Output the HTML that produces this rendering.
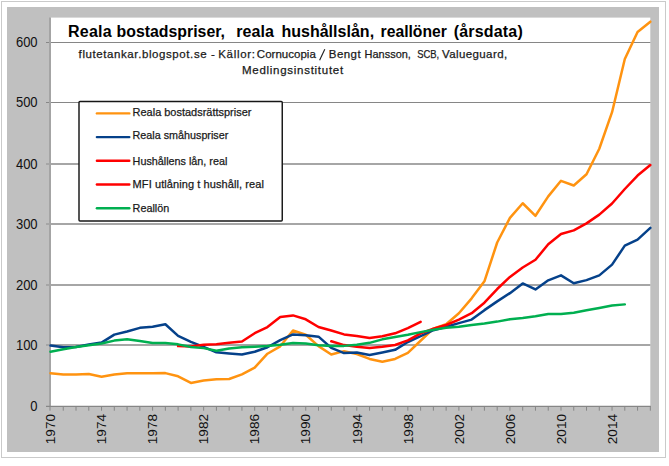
<!DOCTYPE html>
<html><head><meta charset="utf-8"><style>
html,body{margin:0;padding:0;background:#fff;width:669px;height:466px;overflow:hidden}
svg{display:block}
</style></head><body>
<svg width="669" height="466" viewBox="0 0 669 466">
<rect x="0" y="0" width="669" height="466" fill="#ffffff"/>
<rect x="1.5" y="1.5" width="664" height="456" fill="none" stroke="#cacaca" stroke-width="1"/>
<rect x="7" y="7" width="652" height="445" fill="#c0c0c0"/>
<rect x="50.5" y="17.6" width="599.8" height="388.8" fill="#ffffff"/>
<line x1="46" y1="42.5" x2="650.4" y2="42.5" stroke="#868686" stroke-width="1"/>
<line x1="46" y1="102.5" x2="650.4" y2="102.5" stroke="#868686" stroke-width="1"/>
<line x1="46" y1="164.0" x2="650.4" y2="164.0" stroke="#a6a6a6" stroke-width="2"/>
<line x1="46" y1="224.0" x2="650.4" y2="224.0" stroke="#a6a6a6" stroke-width="2"/>
<line x1="46" y1="285.0" x2="650.4" y2="285.0" stroke="#a6a6a6" stroke-width="2"/>
<line x1="46" y1="345.0" x2="650.4" y2="345.0" stroke="#a6a6a6" stroke-width="2"/>
<line x1="50" y1="17.5" x2="50" y2="406.4" stroke="#a4a4a4" stroke-width="2"/>
<line x1="46" y1="406.4" x2="650.8" y2="406.4" stroke="#868686" stroke-width="1.2"/>
<line x1="50.00" y1="406" x2="50.00" y2="410.7" stroke="#868686" stroke-width="1"/>
<line x1="63.26" y1="406" x2="63.26" y2="410.7" stroke="#868686" stroke-width="1"/>
<line x1="76.03" y1="406" x2="76.03" y2="410.7" stroke="#868686" stroke-width="1"/>
<line x1="88.79" y1="406" x2="88.79" y2="410.7" stroke="#868686" stroke-width="1"/>
<line x1="101.55" y1="406" x2="101.55" y2="410.7" stroke="#868686" stroke-width="1"/>
<line x1="114.31" y1="406" x2="114.31" y2="410.7" stroke="#868686" stroke-width="1"/>
<line x1="127.07" y1="406" x2="127.07" y2="410.7" stroke="#868686" stroke-width="1"/>
<line x1="139.84" y1="406" x2="139.84" y2="410.7" stroke="#868686" stroke-width="1"/>
<line x1="152.60" y1="406" x2="152.60" y2="410.7" stroke="#868686" stroke-width="1"/>
<line x1="165.36" y1="406" x2="165.36" y2="410.7" stroke="#868686" stroke-width="1"/>
<line x1="178.12" y1="406" x2="178.12" y2="410.7" stroke="#868686" stroke-width="1"/>
<line x1="190.89" y1="406" x2="190.89" y2="410.7" stroke="#868686" stroke-width="1"/>
<line x1="203.65" y1="406" x2="203.65" y2="410.7" stroke="#868686" stroke-width="1"/>
<line x1="216.41" y1="406" x2="216.41" y2="410.7" stroke="#868686" stroke-width="1"/>
<line x1="229.17" y1="406" x2="229.17" y2="410.7" stroke="#868686" stroke-width="1"/>
<line x1="241.94" y1="406" x2="241.94" y2="410.7" stroke="#868686" stroke-width="1"/>
<line x1="254.70" y1="406" x2="254.70" y2="410.7" stroke="#868686" stroke-width="1"/>
<line x1="267.46" y1="406" x2="267.46" y2="410.7" stroke="#868686" stroke-width="1"/>
<line x1="280.23" y1="406" x2="280.23" y2="410.7" stroke="#868686" stroke-width="1"/>
<line x1="292.99" y1="406" x2="292.99" y2="410.7" stroke="#868686" stroke-width="1"/>
<line x1="305.75" y1="406" x2="305.75" y2="410.7" stroke="#868686" stroke-width="1"/>
<line x1="318.51" y1="406" x2="318.51" y2="410.7" stroke="#868686" stroke-width="1"/>
<line x1="331.27" y1="406" x2="331.27" y2="410.7" stroke="#868686" stroke-width="1"/>
<line x1="344.04" y1="406" x2="344.04" y2="410.7" stroke="#868686" stroke-width="1"/>
<line x1="356.80" y1="406" x2="356.80" y2="410.7" stroke="#868686" stroke-width="1"/>
<line x1="369.56" y1="406" x2="369.56" y2="410.7" stroke="#868686" stroke-width="1"/>
<line x1="382.32" y1="406" x2="382.32" y2="410.7" stroke="#868686" stroke-width="1"/>
<line x1="395.09" y1="406" x2="395.09" y2="410.7" stroke="#868686" stroke-width="1"/>
<line x1="407.85" y1="406" x2="407.85" y2="410.7" stroke="#868686" stroke-width="1"/>
<line x1="420.61" y1="406" x2="420.61" y2="410.7" stroke="#868686" stroke-width="1"/>
<line x1="433.38" y1="406" x2="433.38" y2="410.7" stroke="#868686" stroke-width="1"/>
<line x1="446.14" y1="406" x2="446.14" y2="410.7" stroke="#868686" stroke-width="1"/>
<line x1="458.90" y1="406" x2="458.90" y2="410.7" stroke="#868686" stroke-width="1"/>
<line x1="471.66" y1="406" x2="471.66" y2="410.7" stroke="#868686" stroke-width="1"/>
<line x1="484.42" y1="406" x2="484.42" y2="410.7" stroke="#868686" stroke-width="1"/>
<line x1="497.19" y1="406" x2="497.19" y2="410.7" stroke="#868686" stroke-width="1"/>
<line x1="509.95" y1="406" x2="509.95" y2="410.7" stroke="#868686" stroke-width="1"/>
<line x1="522.71" y1="406" x2="522.71" y2="410.7" stroke="#868686" stroke-width="1"/>
<line x1="535.47" y1="406" x2="535.47" y2="410.7" stroke="#868686" stroke-width="1"/>
<line x1="548.24" y1="406" x2="548.24" y2="410.7" stroke="#868686" stroke-width="1"/>
<line x1="561.00" y1="406" x2="561.00" y2="410.7" stroke="#868686" stroke-width="1"/>
<line x1="573.76" y1="406" x2="573.76" y2="410.7" stroke="#868686" stroke-width="1"/>
<line x1="586.52" y1="406" x2="586.52" y2="410.7" stroke="#868686" stroke-width="1"/>
<line x1="599.29" y1="406" x2="599.29" y2="410.7" stroke="#868686" stroke-width="1"/>
<line x1="612.05" y1="406" x2="612.05" y2="410.7" stroke="#868686" stroke-width="1"/>
<line x1="624.81" y1="406" x2="624.81" y2="410.7" stroke="#868686" stroke-width="1"/>
<line x1="637.57" y1="406" x2="637.57" y2="410.7" stroke="#868686" stroke-width="1"/>
<line x1="650.34" y1="406" x2="650.34" y2="410.7" stroke="#868686" stroke-width="1"/>
<text x="37.6" y="411.0" text-anchor="end" font-family="'Liberation Sans', sans-serif" font-size="14" fill="#111" textLength="7.23" lengthAdjust="spacingAndGlyphs">0</text>
<text x="37.6" y="349.6" text-anchor="end" font-family="'Liberation Sans', sans-serif" font-size="14" fill="#111" textLength="21.69" lengthAdjust="spacingAndGlyphs">100</text>
<text x="37.6" y="289.6" text-anchor="end" font-family="'Liberation Sans', sans-serif" font-size="14" fill="#111" textLength="21.69" lengthAdjust="spacingAndGlyphs">200</text>
<text x="37.6" y="228.6" text-anchor="end" font-family="'Liberation Sans', sans-serif" font-size="14" fill="#111" textLength="21.69" lengthAdjust="spacingAndGlyphs">300</text>
<text x="37.6" y="168.6" text-anchor="end" font-family="'Liberation Sans', sans-serif" font-size="14" fill="#111" textLength="21.69" lengthAdjust="spacingAndGlyphs">400</text>
<text x="37.6" y="107.1" text-anchor="end" font-family="'Liberation Sans', sans-serif" font-size="14" fill="#111" textLength="21.69" lengthAdjust="spacingAndGlyphs">500</text>
<text x="37.6" y="47.1" text-anchor="end" font-family="'Liberation Sans', sans-serif" font-size="14" fill="#111" textLength="21.69" lengthAdjust="spacingAndGlyphs">600</text>
<text transform="translate(55.2,414) rotate(-90)" text-anchor="end" font-family="'Liberation Sans', sans-serif" font-size="13.6" fill="#111" textLength="30.2" lengthAdjust="spacingAndGlyphs">1970</text>
<text transform="translate(106.2,414) rotate(-90)" text-anchor="end" font-family="'Liberation Sans', sans-serif" font-size="13.6" fill="#111" textLength="30.2" lengthAdjust="spacingAndGlyphs">1974</text>
<text transform="translate(157.3,414) rotate(-90)" text-anchor="end" font-family="'Liberation Sans', sans-serif" font-size="13.6" fill="#111" textLength="30.2" lengthAdjust="spacingAndGlyphs">1978</text>
<text transform="translate(208.3,414) rotate(-90)" text-anchor="end" font-family="'Liberation Sans', sans-serif" font-size="13.6" fill="#111" textLength="30.2" lengthAdjust="spacingAndGlyphs">1982</text>
<text transform="translate(259.4,414) rotate(-90)" text-anchor="end" font-family="'Liberation Sans', sans-serif" font-size="13.6" fill="#111" textLength="30.2" lengthAdjust="spacingAndGlyphs">1986</text>
<text transform="translate(310.4,414) rotate(-90)" text-anchor="end" font-family="'Liberation Sans', sans-serif" font-size="13.6" fill="#111" textLength="30.2" lengthAdjust="spacingAndGlyphs">1990</text>
<text transform="translate(361.5,414) rotate(-90)" text-anchor="end" font-family="'Liberation Sans', sans-serif" font-size="13.6" fill="#111" textLength="30.2" lengthAdjust="spacingAndGlyphs">1994</text>
<text transform="translate(412.5,414) rotate(-90)" text-anchor="end" font-family="'Liberation Sans', sans-serif" font-size="13.6" fill="#111" textLength="30.2" lengthAdjust="spacingAndGlyphs">1998</text>
<text transform="translate(463.6,414) rotate(-90)" text-anchor="end" font-family="'Liberation Sans', sans-serif" font-size="13.6" fill="#111" textLength="30.2" lengthAdjust="spacingAndGlyphs">2002</text>
<text transform="translate(514.6,414) rotate(-90)" text-anchor="end" font-family="'Liberation Sans', sans-serif" font-size="13.6" fill="#111" textLength="30.2" lengthAdjust="spacingAndGlyphs">2006</text>
<text transform="translate(565.7,414) rotate(-90)" text-anchor="end" font-family="'Liberation Sans', sans-serif" font-size="13.6" fill="#111" textLength="30.2" lengthAdjust="spacingAndGlyphs">2010</text>
<text transform="translate(616.8,414) rotate(-90)" text-anchor="end" font-family="'Liberation Sans', sans-serif" font-size="13.6" fill="#111" textLength="30.2" lengthAdjust="spacingAndGlyphs">2014</text>
<text x="68.00" y="37" font-family="'Liberation Sans', sans-serif" font-size="16" font-weight="bold" fill="#000" textLength="43.70" lengthAdjust="spacing">Reala</text>
<text x="116.60" y="37" font-family="'Liberation Sans', sans-serif" font-size="16" font-weight="bold" fill="#000" textLength="108.30" lengthAdjust="spacingAndGlyphs">bostadspriser,</text>
<text x="236.20" y="37" font-family="'Liberation Sans', sans-serif" font-size="16" font-weight="bold" fill="#000" textLength="37.62" lengthAdjust="spacing">reala</text>
<text x="281.40" y="37" font-family="'Liberation Sans', sans-serif" font-size="16" font-weight="bold" fill="#000" textLength="92.69" lengthAdjust="spacing">hushållslån,</text>
<text x="380.60" y="37" font-family="'Liberation Sans', sans-serif" font-size="16" font-weight="bold" fill="#000" textLength="66.24" lengthAdjust="spacingAndGlyphs">reallöner</text>
<text x="453.80" y="37" font-family="'Liberation Sans', sans-serif" font-size="16" font-weight="bold" fill="#000" textLength="68.93" lengthAdjust="spacing">(årsdata)</text>
<text x="78.60" y="58" font-family="'Liberation Sans', sans-serif" font-size="11.5" font-weight="normal" fill="#1a1a1a" textLength="128.04" lengthAdjust="spacing" stroke="#1a1a1a" stroke-width="0.25">flutetankar.blogspot.se</text>
<text x="211.10" y="58" font-family="'Liberation Sans', sans-serif" font-size="11.5" font-weight="normal" fill="#1a1a1a" stroke="#1a1a1a" stroke-width="0.25">-</text>
<text x="218.20" y="58" font-family="'Liberation Sans', sans-serif" font-size="11.5" font-weight="normal" fill="#1a1a1a" textLength="36.80" lengthAdjust="spacing" stroke="#1a1a1a" stroke-width="0.25">Källor:</text>
<text x="256.80" y="58" font-family="'Liberation Sans', sans-serif" font-size="11.5" font-weight="normal" fill="#1a1a1a" textLength="59.04" lengthAdjust="spacing" stroke="#1a1a1a" stroke-width="0.25">Cornucopia</text>
<text x="328.80" y="58" font-family="'Liberation Sans', sans-serif" font-size="11.5" font-weight="normal" fill="#1a1a1a" textLength="31.80" lengthAdjust="spacing" stroke="#1a1a1a" stroke-width="0.25">Bengt</text>
<text x="364.60" y="58" font-family="'Liberation Sans', sans-serif" font-size="11.5" font-weight="normal" fill="#1a1a1a" textLength="46.30" lengthAdjust="spacingAndGlyphs" stroke="#1a1a1a" stroke-width="0.25">Hansson,</text>
<text x="417.20" y="58" font-family="'Liberation Sans', sans-serif" font-size="11.5" font-weight="normal" fill="#1a1a1a" textLength="22.04" lengthAdjust="spacingAndGlyphs" stroke="#1a1a1a" stroke-width="0.25">SCB,</text>
<text x="442.00" y="58" font-family="'Liberation Sans', sans-serif" font-size="11.5" font-weight="normal" fill="#1a1a1a" textLength="65.13" lengthAdjust="spacing" stroke="#1a1a1a" stroke-width="0.25">Valueguard,</text>
<line x1="319.6" y1="60.2" x2="324.8" y2="49.2" stroke="#1a1a1a" stroke-width="1.1"/>
<text x="242.00" y="74" font-family="'Liberation Sans', sans-serif" font-size="11.5" font-weight="normal" fill="#1a1a1a" textLength="101.13" lengthAdjust="spacing" stroke="#1a1a1a" stroke-width="0.25">Medlingsinstitutet</text>
<polyline points="50.50,373.24 63.26,374.45 76.03,374.45 88.79,374.09 101.55,376.70 114.31,374.45 127.07,373.24 139.84,373.24 152.60,373.24 165.36,373.12 178.12,376.27 190.89,382.95 203.65,380.40 216.41,379.19 229.17,379.00 241.94,374.33 254.70,367.60 267.46,353.71 280.23,346.30 292.99,330.53 305.75,334.72 318.51,346.12 331.27,354.43 344.04,351.16 356.80,354.01 369.56,358.92 382.32,361.77 395.09,358.92 407.85,352.92 420.61,340.78 433.38,328.71 446.14,324.28 458.90,313.24 471.66,298.32 484.42,281.33 497.19,242.50 509.95,217.81 522.71,203.25 535.47,215.81 548.24,196.40 561.00,180.81 573.76,185.48 586.52,174.25 599.29,148.77 612.05,112.19 624.81,58.99 637.57,31.99 650.34,21.68" fill="none" stroke="#ff9310" stroke-width="2.5" stroke-linejoin="round" stroke-linecap="round"/>
<polyline points="50.50,345.58 63.26,347.34 76.03,346.91 88.79,344.42 101.55,342.60 114.31,334.60 127.07,331.50 139.84,327.86 152.60,326.71 165.36,324.28 178.12,335.81 190.89,341.81 203.65,346.91 216.41,352.37 229.17,353.46 241.94,354.43 254.70,351.70 267.46,347.27 280.23,340.18 292.99,334.41 305.75,335.14 318.51,336.66 331.27,347.88 344.04,353.10 356.80,352.49 369.56,355.04 382.32,352.49 395.09,349.82 407.85,342.00 420.61,336.11 433.38,330.17 446.14,326.71 458.90,323.13 471.66,319.61 484.42,310.15 497.19,301.35 509.95,293.16 522.71,283.39 535.47,289.40 548.24,280.30 561.00,275.38 573.76,283.21 586.52,280.12 599.29,275.38 612.05,264.65 624.81,245.66 637.57,239.65 650.34,227.88" fill="none" stroke="#05418a" stroke-width="2.5" stroke-linejoin="round" stroke-linecap="round"/>
<polyline points="178.12,346.12 190.89,346.43 203.65,344.73 216.41,344.36 229.17,342.79 241.94,341.51 254.70,333.20 267.46,327.01 280.23,317.00 292.99,315.42 305.75,319.31 318.51,326.95 331.27,330.53 344.04,334.41 356.80,335.93 369.56,338.05 382.32,336.29 395.09,333.32 407.85,328.10 420.61,321.79" fill="none" stroke="#ff0000" stroke-width="2.5" stroke-linejoin="round" stroke-linecap="round"/>
<polyline points="331.27,341.27 344.04,345.09 356.80,346.79 369.56,348.06 382.32,346.79 395.09,344.97 407.85,340.36 420.61,333.44 433.38,328.71 446.14,325.01 458.90,319.61 471.66,313.24 484.42,302.68 497.19,289.03 509.95,276.90 522.71,267.50 535.47,259.79 548.24,244.32 561.00,234.07 573.76,230.37 586.52,223.39 599.29,214.60 612.05,203.49 624.81,189.00 637.57,175.53 650.34,164.97" fill="none" stroke="#ff0000" stroke-width="2.5" stroke-linejoin="round" stroke-linecap="round"/>
<polyline points="50.50,351.76 63.26,349.22 76.03,346.91 88.79,345.21 101.55,343.51 114.31,340.60 127.07,339.27 139.84,341.09 152.60,343.03 165.36,343.03 178.12,344.36 190.89,346.91 203.65,348.12 216.41,350.67 229.17,348.49 241.94,347.27 254.70,346.73 267.46,345.94 280.23,344.79 292.99,342.91 305.75,343.39 318.51,345.27 331.27,346.06 344.04,345.88 356.80,344.73 369.56,342.85 382.32,339.33 395.09,337.02 407.85,334.84 420.61,332.11 433.38,329.74 446.14,327.80 458.90,326.71 471.66,325.01 484.42,323.49 497.19,321.61 509.95,319.25 522.71,318.03 535.47,316.33 548.24,313.91 561.00,313.91 573.76,312.69 586.52,310.33 599.29,307.90 612.05,305.60 624.81,304.38" fill="none" stroke="#00af50" stroke-width="2.5" stroke-linejoin="round" stroke-linecap="round"/>
<rect x="79.0" y="101.4" width="203.25" height="119.6" rx="1" fill="#ffffff" stroke="#161616" stroke-width="1.45"/>
<line x1="96.9" y1="113.4" x2="129.3" y2="113.4" stroke="#ff9310" stroke-width="2.4" stroke-linecap="round"/>
<text x="132.60" y="115.6" font-family="'Liberation Sans', sans-serif" font-size="11" font-weight="normal" fill="#1a1a1a" textLength="118.80" lengthAdjust="spacingAndGlyphs" stroke="#1a1a1a" stroke-width="0.25">Reala bostadsrättspriser</text>
<line x1="96.9" y1="137.1" x2="129.3" y2="137.1" stroke="#05418a" stroke-width="2.4" stroke-linecap="round"/>
<text x="132.60" y="139.2" font-family="'Liberation Sans', sans-serif" font-size="11" font-weight="normal" fill="#1a1a1a" textLength="95.70" lengthAdjust="spacingAndGlyphs" stroke="#1a1a1a" stroke-width="0.25">Reala småhuspriser</text>
<line x1="96.9" y1="160.8" x2="129.3" y2="160.8" stroke="#ff0000" stroke-width="2.4" stroke-linecap="round"/>
<text x="132.60" y="164.8" font-family="'Liberation Sans', sans-serif" font-size="11" font-weight="normal" fill="#1a1a1a" textLength="94.72" lengthAdjust="spacingAndGlyphs" stroke="#1a1a1a" stroke-width="0.25">Hushållens lån, real</text>
<line x1="96.9" y1="184.5" x2="129.3" y2="184.5" stroke="#ff0000" stroke-width="2.4" stroke-linecap="round"/>
<text x="132.60" y="188.3" font-family="'Liberation Sans', sans-serif" font-size="11" font-weight="normal" fill="#1a1a1a" textLength="131.29" lengthAdjust="spacing" stroke="#1a1a1a" stroke-width="0.25">MFI utlåning t hushåll, real</text>
<line x1="96.9" y1="208.2" x2="129.3" y2="208.2" stroke="#00af50" stroke-width="2.4" stroke-linecap="round"/>
<text x="132.60" y="211.6" font-family="'Liberation Sans', sans-serif" font-size="11" font-weight="normal" fill="#1a1a1a" textLength="36.60" lengthAdjust="spacingAndGlyphs" stroke="#1a1a1a" stroke-width="0.25">Reallön</text>
</svg>
</body></html>
